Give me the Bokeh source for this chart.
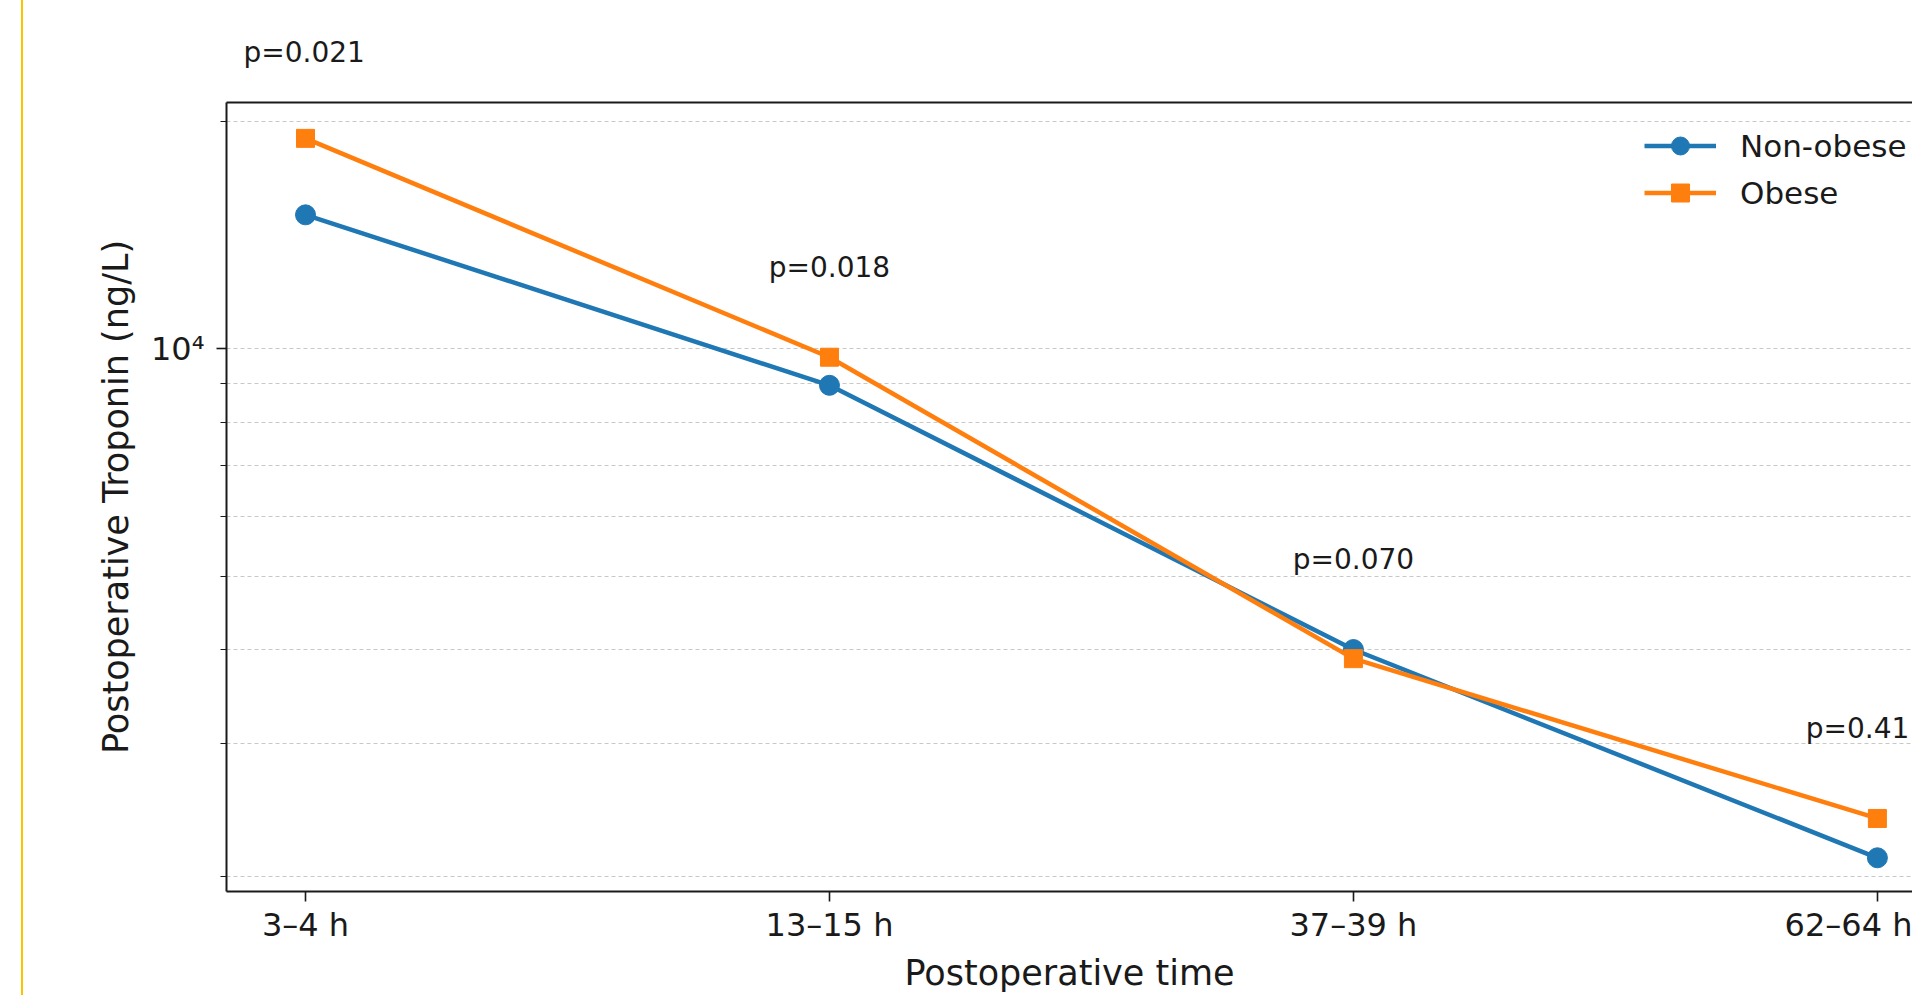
from bokeh.plotting import figure
from bokeh.models import Range1d, FixedTicker, Label, Legend, LegendItem, LinearAxis, Div
from bokeh.layouts import row
from bokeh.embed import file_html
from bokeh.resources import INLINE

# ---- data ----
time_labels = ["3–4 h", "13–15 h", "37–39 h", "62–64 h"]
non_obese = [15050, 8950, 4000, 2120]
obese = [19000, 9750, 3890, 2390]
p_labels = ["p=0.021", "p=0.018", "p=0.070", "p=0.41"]
y_major_ticks = [10000]
y_minor_ticks = [2000, 3000, 4000, 5000, 6000, 7000, 8000, 9000, 20000]

x = list(range(len(time_labels)))

FONT = "DejaVu Sans"
BLUE = "#1f77b4"
ORANGE = "#ff7f0e"
INK = "#1a1a1a"

p = figure(width=1889, height=995, y_axis_type="log",
           x_range=Range1d(-0.1508, 3.067), y_range=Range1d(1913, 21195),
           output_backend="svg", toolbar_location=None,
           min_border_left=203, min_border_right=0,
           min_border_top=101, min_border_bottom=104)
p.outline_line_color = None
p.background_fill_color = "white"
p.border_fill_color = "white"

# first p-value sits above the frame: use the title slot for it
p.title.text = p_labels[0]
p.title.align = "left"
p.title.offset = 17
p.title.standoff = 67
p.title.text_font = FONT
p.title.text_font_size = "28px"
p.title.text_font_style = "normal"
p.title.text_color = INK

# x axis
p.xaxis.ticker = FixedTicker(ticks=x)
p.xaxis.major_label_overrides = {i: lab for i, lab in zip(x, time_labels)}
p.xaxis.axis_label = "Postoperative time"
p.xgrid.visible = False

# y axis
yt = FixedTicker(ticks=y_major_ticks, minor_ticks=y_minor_ticks)
p.yaxis.ticker = yt
p.ygrid.ticker = yt
p.yaxis.major_label_overrides = {10000: "10⁴"}
p.yaxis.axis_label = "Postoperative Troponin (ng/L)"

for ax in (p.xaxis[0], p.yaxis[0]):
    ax.axis_line_width = 2
    ax.axis_line_color = INK
    ax.major_tick_line_color = INK
    ax.major_tick_line_width = 1.6
    ax.major_tick_out = 10
    ax.major_tick_in = 0
    ax.minor_tick_line_color = INK
    ax.minor_tick_line_width = 1.2
    ax.minor_tick_out = 6
    ax.minor_tick_in = 0
    ax.major_label_text_font = FONT
    ax.major_label_text_color = INK
    ax.axis_label_text_font = FONT
    ax.axis_label_text_color = INK
    ax.axis_label_text_font_style = "normal"
    ax.axis_label_text_font_size = "35px"

p.xaxis.major_label_text_font_size = "32px"
p.xaxis.major_label_standoff = 4
p.xaxis.axis_label_standoff = 6
p.xaxis.minor_tick_line_color = None
p.yaxis.major_label_text_font_size = "32px"
p.yaxis.major_label_standoff = 12
p.yaxis.axis_label_standoff = 12

# top spine
top = LinearAxis(ticker=FixedTicker(ticks=[]), axis_line_width=2, axis_line_color=INK,
                 major_tick_line_color=None, minor_tick_line_color=None,
                 major_label_text_font_size="0px")
p.add_layout(top, "above")

p.ygrid.grid_line_color = "#c8c8c8"
p.ygrid.grid_line_dash = "4 3"
p.ygrid.grid_line_width = 1
p.ygrid.minor_grid_line_color = "#c8c8c8"
p.ygrid.minor_grid_line_dash = "4 3"
p.ygrid.minor_grid_line_width = 1

# series
l1 = p.line(x, non_obese, line_color=BLUE, line_width=4.5)
s1 = p.scatter(x, non_obese, marker="circle", size=20, fill_color=BLUE, line_color=BLUE)
l2 = p.line(x, obese, line_color=ORANGE, line_width=4.5)
s2 = p.scatter(x, obese, marker="square", size=18, fill_color=ORANGE, line_color=ORANGE)

legend = Legend(items=[LegendItem(label="Non-obese", renderers=[l1, s1]),
                       LegendItem(label="Obese", renderers=[l2, s2])],
                location=(1418, 676),
                label_text_font=FONT, label_text_font_size="31px", label_text_color=INK,
                glyph_width=72, glyph_height=45, label_height=45,
                spacing=2, padding=10, margin=0, label_standoff=24,
                border_line_color=None, background_fill_alpha=0)
p.add_layout(legend)

# remaining p-value annotations (inside the frame)
n = len(x)
for i in range(1, n):
    last = i == n - 1
    p.add_layout(Label(x=x[i], y=max(non_obese[i], obese[i]) * 1.3, text=p_labels[i],
                       text_align="right" if last else "center",
                       x_offset=32 if last else 0, y_offset=4,
                       text_baseline="middle",
                       text_font=FONT, text_font_size="28px", text_color=INK))

edge = Div(width=23, height=995, margin=0,
           styles={"border-right": "2px solid #FFC000", "box-sizing": "border-box"})

layout = row(edge, p)
open("out.html", "w").write(file_html(layout, INLINE))
